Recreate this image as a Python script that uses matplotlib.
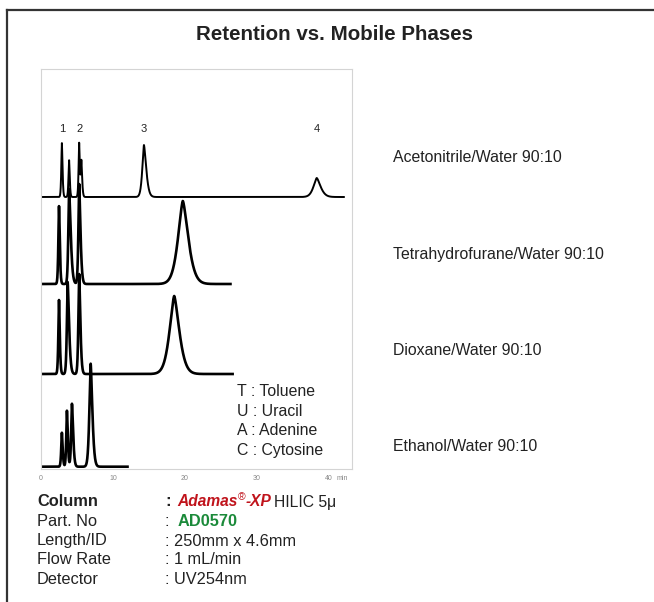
import numpy as np
import matplotlib.pyplot as plt

plt.rcParams['font.family'] = ['Liberation Sans', 'DejaVu Sans']

# retention times (min), peak heights (a.u.), left / right half widths (min)
acn_rt = [2.9, 3.9, 5.3, 5.6, 14.3, 38.3]
acn_h = [54, 37, 54, 36, 52, 19]
acn_wl = [0.09, 0.09, 0.09, 0.09, 0.25, 0.5]
acn_wr = [0.1, 0.1, 0.1, 0.12, 0.35, 0.6]

thf_rt = [2.5, 3.9, 5.3, 19.7]
thf_h = [78, 95, 100, 83]
thf_wl = [0.1, 0.12, 0.12, 0.75]
thf_wr = [0.12, 0.25, 0.2, 0.85]

dio_rt = [2.5, 3.7, 5.3, 18.5]
dio_h = [74, 92, 100, 78]
dio_wl = [0.1, 0.12, 0.12, 0.72]
dio_wr = [0.12, 0.22, 0.18, 0.8]

eth_rt = [2.9, 3.6, 4.3, 6.9]
eth_h = [34, 56, 63, 103]
eth_wl = [0.1, 0.1, 0.12, 0.2]
eth_wr = [0.12, 0.13, 0.18, 0.26]

baselines = [272, 185, 95, 2.3]
run_end = [42.2, 26.5, 26.8, 12.2]
phases = ['Acetonitrile/Water 90:10', 'Tetrahydrofurane/Water 90:10',
          'Dioxane/Water 90:10', 'Ethanol/Water 90:10']
peak_labels = ['1', '2', '3', '4']
peak_label_rt = [2.9, 5.3, 14.3, 38.3]
compounds = ['T : Toluene', 'U : Uracil', 'A : Adenine', 'C : Cytosine']


def trace(t, rt, h, wl, wr):
    y = np.zeros_like(t)
    for r, a, sl, sr in zip(rt, h, wl, wr):
        s = np.where(t < r, sl, sr)
        y += a * np.exp(-np.log(2) * np.abs((t - r) / s) ** 1.5)
    return y


fig = plt.figure(figsize=(6.54, 6.02), dpi=100)
ink = '#222222'

# frame lines on top and left
fig.add_artist(plt.Line2D([6.5 / 654, 1], [1 - 9.5 / 602] * 2, color='#333333', lw=1.6))
fig.add_artist(plt.Line2D([6.5 / 654] * 2, [0, 1 - 9.5 / 602], color='#333333', lw=1.6))

fig.text(334 / 654, 1 - 35 / 602, 'Retention vs. Mobile Phases', ha='center', va='center',
         fontsize=14.8, fontweight='bold', color=ink)

ax = fig.add_axes([41 / 654, 133 / 602, 311 / 654, 400 / 602])
sets = [(acn_rt, acn_h, acn_wl, acn_wr), (thf_rt, thf_h, thf_wl, thf_wr),
        (dio_rt, dio_h, dio_wl, dio_wr), (eth_rt, eth_h, eth_wl, eth_wr)]
for i, (rt, h, wl, wr) in enumerate(sets):
    t = np.linspace(0, run_end[i], 4000)
    y = baselines[i] + trace(t, rt, h, wl, wr)
    ax.plot(t, y, color='black', lw=1.4 if i == 0 else 1.9, solid_capstyle='butt')

for lab, r in zip(peak_labels, peak_label_rt):
    ax.text(r, 340, lab, ha='center', va='center', fontsize=8, color=ink)

for i, c in enumerate(compounds):
    ax.text(27.2, 72.5 - i * 19.4, c, ha='left', va='baseline', fontsize=11.4, color=ink)

ax.set_xlim(0, 43.2)
ax.set_ylim(0, 400)
ax.set_yticks([])
ax.set_xticks([0, 10, 20, 30, 40])
ax.set_xticklabels(['0', '10', '20', '30', '40'])
ax.tick_params(axis='x', length=0, labelsize=5, labelcolor='#888888', pad=4)
ax.text(41.0, -9, 'min', transform=ax.transData, fontsize=5, color='#888888',
        ha='left', va='center', clip_on=False)
for sp in ax.spines.values():
    sp.set_color('#d4d4d4')
    sp.set_linewidth(0.8)

for i, p in enumerate(phases):
    fig.text(393 / 654, 1 - (162.5 + i * 96.3) / 602, p, ha='left', va='baseline',
             fontsize=11.4, color=ink)

# column information
fs = 11.8
rows = ['Column', 'Part. No', 'Length/ID', 'Flow Rate', 'Detector']
row_y = [506.5, 525.5, 545.5, 564.5, 583.5]
for r, yy in zip(rows, row_y):
    fig.text(37 / 654, 1 - yy / 602, r, ha='left', va='baseline', fontsize=fs, color=ink,
             fontweight='bold' if r == 'Column' else 'normal')

renderer = fig.canvas.get_renderer()


def chain(x_px, y_px, parts):
    # place text pieces one after another, x_px in figure pixels
    for s, kw, gap, dy in parts:
        x_px += gap
        t = fig.text(x_px / 654, 1 - (y_px + dy) / 602, s, ha='left', va='baseline', **kw)
        x_px = t.get_window_extent(renderer).x1


red = '#c0141c'
chain(165, row_y[0], [
    (':', dict(fontsize=fs, fontweight='bold', color=ink), 0, 0),
    ('Adamas', dict(fontsize=11.2, fontweight='bold', fontstyle='italic', color=red), 7, 0),
    ('®', dict(fontsize=7.5, color=red), 0.5, -6),
    ('-XP', dict(fontsize=11.2, fontweight='bold', fontstyle='italic', color=red), 0, 0),
    ('HILIC 5μ', dict(fontsize=11.3, color=ink), 2, 0),
])
chain(165, row_y[1], [
    (':', dict(fontsize=fs, color=ink), 0, 0),
    ('AD0570', dict(fontsize=fs, fontweight='bold', color='#1b8a3a'), 8, 0),
])
vals = ['250mm x 4.6mm', '1 mL/min', 'UV254nm']
for v, yy in zip(vals, row_y[2:]):
    fig.text(165 / 654, 1 - yy / 602, ': ' + v, ha='left', va='baseline', fontsize=fs,
             color=ink)

fig.savefig('out.png', dpi=100)
